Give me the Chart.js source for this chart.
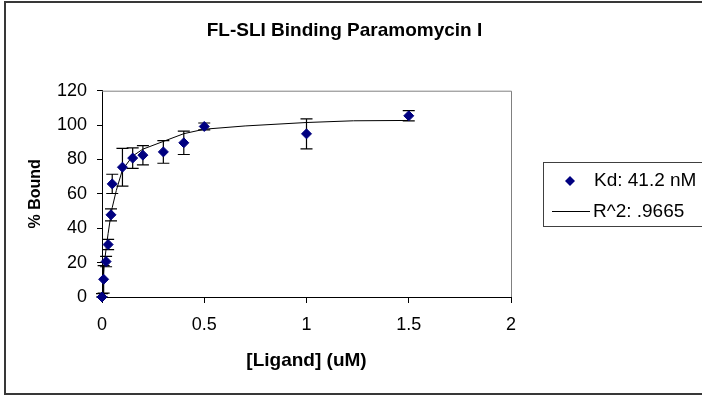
<!DOCTYPE html>
<html>
<head>
<meta charset="utf-8">
<script src="https://cdn.jsdelivr.net/npm/chart.js@4.4.1/dist/chart.umd.min.js"></script>
<style>
  html, body { margin: 0; padding: 0; background: #fff; }
  #wrap { position: relative; width: 702px; height: 397px; }
</style>
</head>
<body>
<div id="wrap"><canvas id="bindingChart"></canvas></div>
<script>
// measured points
const ligand = [0, 0.008, 0.02, 0.03, 0.044, 0.05, 0.1, 0.15, 0.2, 0.3, 0.4, 0.5, 1.0, 1.5];
const bound = [0, 10.3, 20.6, 30.5, 47.8, 65.8, 75.5, 80.8, 82.5, 84.4, 89.7, 99.2, 94.9, 105.4];
const boundErr = [2, 8, 3, 3, 3.5, 5.6, 11, 6, 5.6, 6.6, 6.8, 2, 8.7, 3];

// fitted curve
const fitX = [0, 0.005, 0.01, 0.02, 0.03, 0.04, 0.05, 0.07, 0.1, 0.15, 0.2, 0.3, 0.4, 0.5, 0.7, 1.0, 1.23, 1.5];
const fitY = [0, 10, 18, 28, 37, 45, 52, 62, 74, 82, 86, 90.5, 95, 97.6, 99.5, 101.5, 102.5, 102.7];

const xTicks = [0, 0.5, 1, 1.5, 2];
const yTicks = [0, 20, 40, 60, 80, 100, 120];

const FONT = '"Liberation Sans", Arial, sans-serif';

const errorBars = {
    id: 'errorBars',
    beforeDatasetsDraw(chart) {
        const ctx = chart.ctx;
        const xs = chart.scales.x, ys = chart.scales.y;
        ctx.save();
        ctx.strokeStyle = '#000';
        ctx.lineWidth = 1.2;
        ligand.forEach((v, i) => {
            const px = xs.getPixelForValue(v);
            const top = ys.getPixelForValue(bound[i] + boundErr[i]);
            const bot = ys.getPixelForValue(Math.max(0, bound[i] - boundErr[i]));
            ctx.beginPath();
            ctx.moveTo(px, top); ctx.lineTo(px, bot);
            ctx.moveTo(px - 6, top); ctx.lineTo(px + 6, top);
            ctx.moveTo(px - 6, bot); ctx.lineTo(px + 6, bot);
            ctx.stroke();
        });
        // top and right edges of the plot area
        const a = chart.chartArea;
        ctx.strokeStyle = '#808080';
        ctx.lineWidth = 1;
        ctx.beginPath();
        ctx.moveTo(a.left, a.top + 0.5);
        ctx.lineTo(a.right + 0.5, a.top + 0.5);
        ctx.lineTo(a.right + 0.5, a.bottom);
        ctx.stroke();
        ctx.restore();
    }
};

const frameAndLegend = {
    id: 'frameAndLegend',
    afterDraw(chart) {
        const ctx = chart.ctx;
        const ds = chart.data.datasets;
        ctx.save();
        // outer chart frame
        ctx.strokeStyle = '#383838';
        ctx.lineWidth = 2;
        ctx.strokeRect(5, 2, 720, 392);

        // legend box
        ctx.lineWidth = 1;
        ctx.strokeStyle = '#404040';
        ctx.strokeRect(543.5, 162.5, 200, 64);

        ctx.fillStyle = '#000080';
        ctx.beginPath();
        ctx.moveTo(570, 176); ctx.lineTo(575, 181); ctx.lineTo(570, 186); ctx.lineTo(565, 181);
        ctx.closePath();
        ctx.fill();

        ctx.strokeStyle = '#000';
        ctx.beginPath();
        ctx.moveTo(552, 211.5); ctx.lineTo(590, 211.5);
        ctx.stroke();

        ctx.fillStyle = '#000';
        ctx.font = '19px ' + FONT;
        ctx.textBaseline = 'middle';
        ctx.textAlign = 'left';
        ctx.fillText(ds[0].label, 594, 181);
        ctx.fillText(ds[1].label, 593, 212);
        ctx.restore();
    }
};

const ctx = document.getElementById('bindingChart').getContext('2d');
new Chart(ctx, {
    type: 'scatter',
    data: {
        datasets: [{
            label: 'Kd: 41.2 nM',
            data: ligand.map((v, i) => ({ x: v, y: bound[i] })),
            pointStyle: 'rectRot',
            pointRadius: 5,
            pointBorderWidth: 1,
            backgroundColor: '#000080',
            borderColor: '#000080',
            clip: false,
            order: 1
        }, {
            label: 'R^2: .9665',
            data: fitX.map((v, i) => ({ x: v, y: fitY[i] })),
            showLine: true,
            pointRadius: 0,
            borderColor: '#000',
            borderWidth: 1,
            tension: 0,
            order: 2
        }]
    },
    options: {
        responsive: true,
        maintainAspectRatio: false,
        animation: false,
        layout: { padding: { left: 0, right: 13, top: 0, bottom: 0 } },
        plugins: {
            legend: { display: false },
            tooltip: { enabled: false },
            title: {
                display: true,
                text: 'FL-SLI Binding Paramomycin I',
                color: '#000',
                font: { family: FONT, size: 19, weight: 'bold' },
                padding: { top: 19.4, bottom: 48.5 }
            }
        },
        scales: {
            x: {
                type: 'linear',
                min: 0,
                max: 2,
                afterBuildTicks: (axis) => { axis.ticks = xTicks.map(v => ({ value: v })); },
                afterFit: (axis) => { axis.height = 100; },
                grid: { drawOnChartArea: false, tickLength: 6, color: '#000' },
                border: { color: '#000', width: 1 },
                ticks: {
                    color: '#000', padding: 11, font: { family: FONT, size: 18 },
                    callback: (v) => String(v)
                },
                title: {
                    display: true,
                    text: '[Ligand] (uM)',
                    color: '#000',
                    font: { family: FONT, size: 19, weight: 'bold' },
                    padding: { top: 0, bottom: 24.6 }
                }
            },
            y: {
                type: 'linear',
                min: 0,
                max: 120,
                afterBuildTicks: (axis) => { axis.ticks = yTicks.map(v => ({ value: v })); },
                afterFit: (axis) => { axis.width = 102; },
                grid: { drawOnChartArea: false, tickLength: 5, color: '#000' },
                border: { color: '#000', width: 1 },
                ticks: {
                    color: '#000', padding: 10, font: { family: FONT, size: 18 },
                    callback: (v) => String(v)
                },
                title: {
                    display: true,
                    text: '% Bound',
                    color: '#000',
                    font: { family: FONT, size: 16, weight: 'bold' },
                    padding: { top: 26, bottom: 0 }
                }
            },
            spacer: {
                type: 'linear',
                position: 'right',
                display: true,
                afterFit: (axis) => { axis.width = 178; },
                grid: { display: false },
                border: { display: false },
                ticks: { display: false }
            }
        }
    },
    plugins: [errorBars, frameAndLegend]
});
</script>
</body>
</html>
